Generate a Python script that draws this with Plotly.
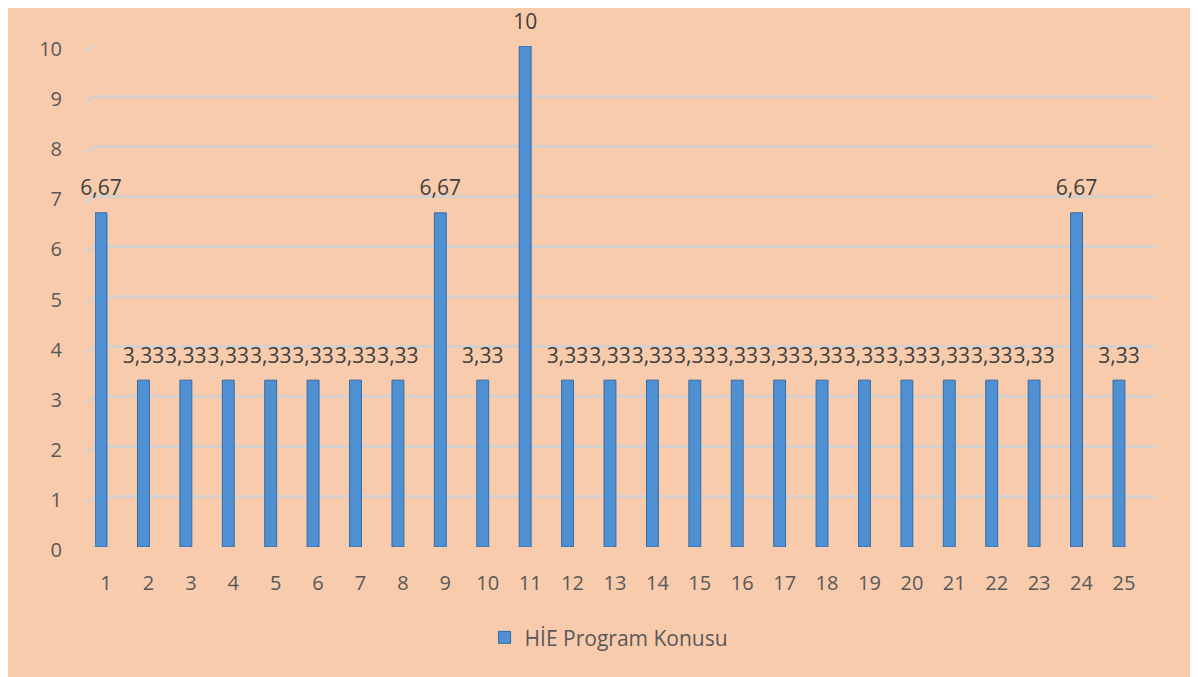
import plotly.graph_objects as go

categories = list(range(1, 26))
values = [6.67, 3.33, 3.33, 3.33, 3.33, 3.33, 3.33, 3.33, 6.67, 3.33, 10,
          3.33, 3.33, 3.33, 3.33, 3.33, 3.33, 3.33, 3.33, 3.33, 3.33, 3.33,
          3.33, 6.67, 3.33]
y_ticks = list(range(0, 11))
series_name = "HİE Program Konusu"

PEACH = "#F8CBAD"
FONT = "Open Sans"
GRID = "#D5D0CD"

fig = go.Figure()
fig.add_trace(go.Bar(
    x=categories, y=values, name=series_name, width=0.28,
    marker=dict(color="#4F90D2", line=dict(color="#2F6BA8", width=1)),
    hoverinfo="x+y",
))
fig.add_trace(go.Scatter(
    x=categories, y=values, mode="markers+text",
    text=[f"{v:g}".replace(".", ",") for v in values],
    textposition="top center",
    textfont=dict(family=FONT, size=21, color="#404040"),
    marker=dict(size=18, opacity=0),
    showlegend=False, hoverinfo="skip", cliponaxis=False,
))

shapes = []
for t in y_ticks:
    shapes.append(dict(type="line", xref="paper", yref="y",
                       x0=-0.0095, x1=0, y0=t - 0.12, y1=t,
                       line=dict(color=GRID, width=2.5), layer="below"))

fig.update_layout(
    width=1190, height=669,
    margin=dict(l=87, r=43, t=38, b=130),
    paper_bgcolor=PEACH, plot_bgcolor=PEACH,
    separators=",.",
    font=dict(family=FONT, size=20, color="#595959"),
    shapes=shapes,
    showlegend=True,
    legend=dict(orientation="h", x=0.485, xanchor="center", y=-0.181,
                yanchor="middle", font=dict(size=21, color="#595959"),
                bgcolor="rgba(0,0,0,0)"),
    xaxis=dict(range=[0.858, 25.85], tickmode="array", tickvals=categories,
               showgrid=False, zeroline=False, showline=False,
               ticks="", ticklabelstandoff=22, ticklabelshift=5,
               tickfont=dict(size=20, color="#595959")),
    yaxis=dict(range=[0, 10], tickmode="array", tickvals=y_ticks,
               showgrid=True, gridcolor=GRID, gridwidth=3,
               zeroline=False, showline=False, ticks="",
               ticklabelstandoff=32, ticklabelshift=3,
               tickfont=dict(size=20, color="#595959")),
)

fig.write_html("out.html")
